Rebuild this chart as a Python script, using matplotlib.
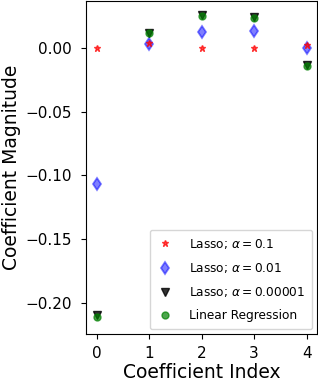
import numpy as np
import matplotlib
matplotlib.use("Agg")
import matplotlib.pyplot as plt

# coefficient values
coef_index = [0, 1, 2, 3, 4]
lasso_01 = [0.0, 0.0039, 0.0, 0.0, 0.0022]
lasso_001 = [-0.107, 0.0032, 0.0125, 0.0133, 0.0]
lasso_00001 = [-0.2095, 0.0118, 0.0252, 0.0243, -0.0135]
linreg = [-0.2105, 0.0112, 0.0245, 0.0236, -0.0142]

fig = plt.figure(figsize=(3.18, 3.82), dpi=100)
ax = fig.add_axes([0.272, 0.126, 0.725, 0.872])

ax.plot(coef_index, lasso_01, alpha=0.7, linestyle='none', marker='*',
        markersize=5, color='red', label=r'Lasso; $\alpha = 0.1$', zorder=7)
ax.plot(coef_index, lasso_001, alpha=0.5, linestyle='none', marker='d',
        markersize=6.5, markeredgewidth=1.3, color='blue',
        label=r'Lasso; $\alpha = 0.01$')
ax.plot(coef_index, lasso_00001, alpha=0.8, linestyle='none', marker='v',
        markersize=5.5, color='black', label=r'Lasso; $\alpha = 0.00001$')
ax.plot(coef_index, linreg, alpha=0.7, linestyle='none', marker='o',
        markersize=5, color='green', label='Linear Regression', zorder=2)

ax.set_xlim(-0.2, 4.2)
ax.set_ylim(-0.224, 0.0367)
ax.set_xticks([0, 1, 2, 3, 4])
ax.set_yticks([0.0, -0.05, -0.10, -0.15, -0.20])
ax.tick_params(axis='y', labelsize=11, pad=7)
ax.tick_params(axis='x', labelsize=11, pad=5)
ax.set_xlabel('Coefficient Index', fontsize=13.5, labelpad=2)
ax.set_ylabel('Coefficient Magnitude', fontsize=13.5, labelpad=3)
ax.legend(loc='lower right', fontsize=8.7, labelspacing=0.85, borderpad=0.55,
          handlelength=1.5, handletextpad=1.25, borderaxespad=0.4)

fig.savefig('out.png', dpi=100)
